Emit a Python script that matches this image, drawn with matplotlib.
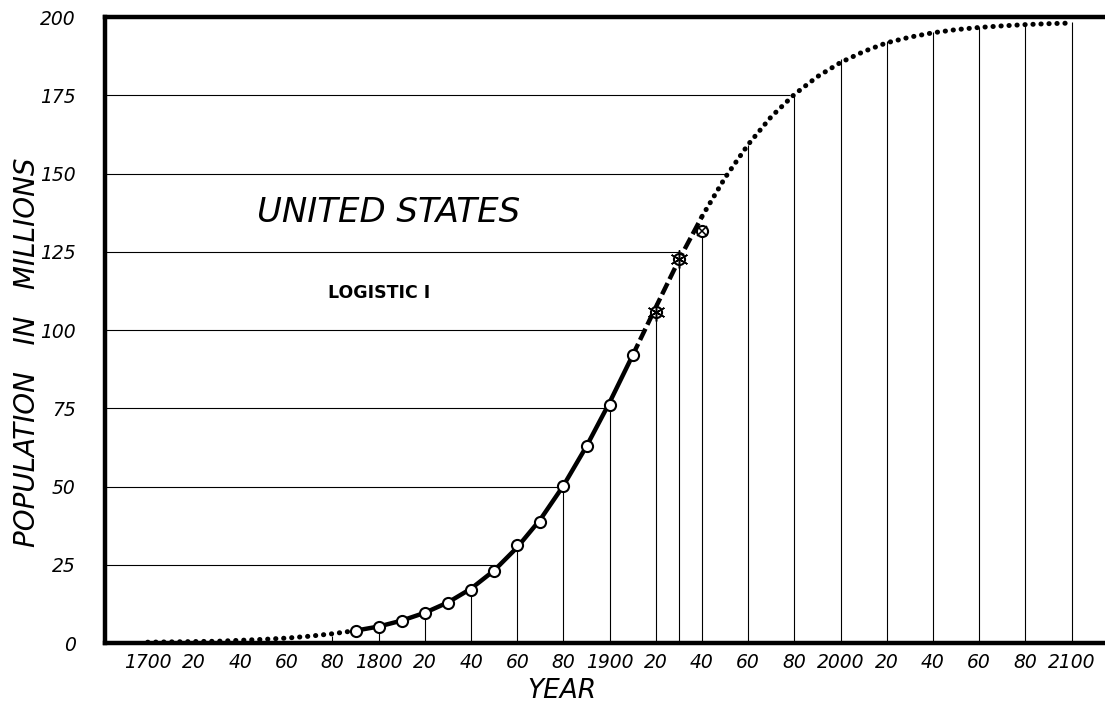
import matplotlib.pyplot as plt
import numpy as np

# values
curve_years = np.arange(1700, 2101, 10)
curve_pop = np.array([
    0.3, 0.4, 0.5, 0.6, 0.9, 1.2, 1.6, 2.2, 3.0, 4.0,
    5.3, 7.2, 9.7, 13.0, 17.4, 23.2, 30.6, 39.5, 50.3, 62.9,
    76.9, 92.0, 107.3, 122.4, 136.3, 148.7, 159.3, 168.2, 175.3, 181.0,
    185.5, 189.0, 191.8, 193.6, 195.0, 196.0, 196.7, 197.2, 197.6, 197.9,
    198.1,
])

census_years = [1790, 1800, 1810, 1820, 1830, 1840, 1850, 1860,
                1870, 1880, 1890, 1900, 1910, 1920, 1930, 1940]
census_pop = [3.9, 5.3, 7.2, 9.6, 12.9, 17.1, 23.2, 31.4,
              38.6, 50.2, 62.9, 76.0, 92.0, 105.7, 122.8, 131.7]

vline_years = [1780, 1800, 1820, 1840, 1860, 1880, 1900, 1920, 1930, 1940,
               1960, 1980, 2000, 2020, 2040, 2060, 2080, 2100]
vline_tops = [2.4, 5.3, 9.6, 17.1, 31.4, 50.2, 76.0, 105.7, 122.8, 131.7,
              159.3, 175.3, 186.5, 192.5, 195.3, 196.9, 197.8, 198.3]

hline_vals = [25, 50, 75, 100, 125, 150, 175]
hline_ends = [1853, 1880, 1899, 1915, 1930, 1950, 1978]

xtick_years = list(range(1700, 2101, 20))
xtick_labels = ["1700", "20", "40", "60", "80", "1800", "20", "40", "60", "80",
                "1900", "20", "40", "60", "80", "2000", "20", "40", "60", "80", "2100"]
ytick_vals = [0, 25, 50, 75, 100, 125, 150, 175, 200]

fig = plt.figure(figsize=(11.05, 7.13), dpi=100)
ax = fig.add_axes([0.095, 0.098, 0.905, 0.878])

# thin guide lines
ax.vlines(vline_years, 0, vline_tops, colors="black", lw=0.8)
ax.hlines(hline_vals, 1681.5, hline_ends, colors="black", lw=0.8)

# curve pieces: dotted / solid / dashed / dotted
early = curve_years <= 1790
solid = (curve_years >= 1790) & (curve_years <= 1910)
dashed = (curve_years >= 1910) & (curve_years <= 1940)
late = curve_years >= 1940
dot_style = dict(color="black", lw=3.6, ls=(0, (0.05, 1.55)), dash_capstyle="round")
ax.plot(curve_years[early], curve_pop[early], **dot_style)
ax.plot(curve_years[late], curve_pop[late], **dot_style)
ax.plot(curve_years[solid], curve_pop[solid], color="black", lw=3.2, solid_capstyle="round")
ax.plot(curve_years[dashed], curve_pop[dashed], color="black", lw=3.2,
        ls=(0, (2.8, 1.0)), dash_capstyle="butt")

# census points
ax.plot(census_years, census_pop, "o", ms=8, mfc="white", mec="black", mew=1.5, zorder=5)
ax.plot(census_years[-3:-1], census_pop[-3:-1], marker=(6, 2, 0), ls="none",
        ms=13, mec="black", mew=1.1, zorder=6)
ax.plot(census_years[-1:], census_pop[-1:], "x", ms=7, mec="black", mew=1.1, zorder=6)

ax.set_xlim(1681.5, 2114.5)
ax.set_ylim(0, 200)

for side in ["left", "bottom", "top"]:
    ax.spines[side].set_linewidth(3.2)
ax.spines["right"].set_visible(False)

ax.set_xticks(xtick_years)
ax.set_xticklabels(xtick_labels, fontsize=13.5, fontstyle="italic")
ax.set_yticks(ytick_vals)
ax.set_yticklabels([str(v) for v in ytick_vals], fontsize=13.5, fontstyle="italic")
ax.tick_params(axis="both", length=0)
ax.tick_params(axis="x", pad=7)
ax.tick_params(axis="y", pad=21)

ax.set_xlabel("YEAR", fontsize=19, fontstyle="italic")
ax.xaxis.set_label_coords(0.457, -0.055)
ax.set_ylabel("POPULATION   IN   MILLIONS", fontsize=20, fontstyle="italic")
ax.yaxis.set_label_coords(-0.064, 0.465)

ax.text(1747.5, 137.5, "UNITED STATES", fontsize=24.5, fontstyle="italic", ha="left", va="center")
ax.text(1778, 111.8, "LOGISTIC I", fontsize=12.5, fontweight="bold", ha="left", va="center")

fig.savefig("out.png", dpi=100)
